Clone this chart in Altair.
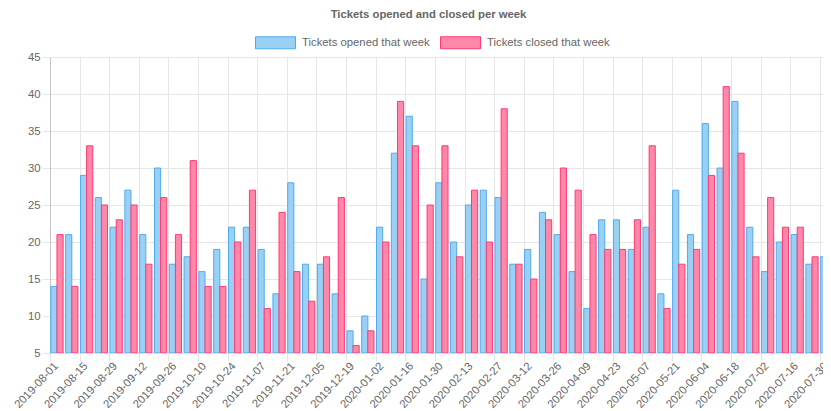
import altair as alt
import pandas as pd

weeks = [
    "2019-08-01", "2019-08-08", "2019-08-15", "2019-08-22", "2019-08-29",
    "2019-09-05", "2019-09-12", "2019-09-19", "2019-09-26", "2019-10-03",
    "2019-10-10", "2019-10-17", "2019-10-24", "2019-10-31", "2019-11-07",
    "2019-11-14", "2019-11-21", "2019-11-28", "2019-12-05", "2019-12-12",
    "2019-12-19", "2019-12-26", "2020-01-02", "2020-01-09", "2020-01-16",
    "2020-01-23", "2020-01-30", "2020-02-06", "2020-02-13", "2020-02-20",
    "2020-02-27", "2020-03-05", "2020-03-12", "2020-03-19", "2020-03-26",
    "2020-04-02", "2020-04-09", "2020-04-16", "2020-04-23", "2020-04-30",
    "2020-05-07", "2020-05-14", "2020-05-21", "2020-05-28", "2020-06-04",
    "2020-06-11", "2020-06-18", "2020-06-25", "2020-07-02", "2020-07-09",
    "2020-07-16", "2020-07-23", "2020-07-30",
]
opened = [14, 21, 29, 26, 22, 27, 21, 30, 17, 18,
          16, 19, 22, 22, 19, 13, 28, 17, 17, 13,
          8, 10, 22, 32, 37, 15, 28, 20, 25, 27,
          26, 17, 19, 24, 21, 16, 11, 23, 23, 19,
          22, 13, 27, 21, 36, 30, 39, 22, 16, 20,
          21, 17, 18]
closed = [21, 14, 33, 25, 23, 25, 17, 26, 21, 31,
          14, 14, 20, 27, 11, 24, 16, 12, 18, 26,
          6, 8, 20, 39, 33, 25, 33, 18, 27, 20,
          38, 17, 15, 23, 30, 27, 21, 19, 19, 23,
          33, 11, 17, 19, 29, 41, 32, 18, 26, 22,
          22, 18, None]
tick_labels = [
    "2019-08-01", "2019-08-15", "2019-08-29", "2019-09-12", "2019-09-26",
    "2019-10-10", "2019-10-24", "2019-11-07", "2019-11-21", "2019-12-05",
    "2019-12-19", "2020-01-02", "2020-01-16", "2020-01-30", "2020-02-13",
    "2020-02-27", "2020-03-12", "2020-03-26", "2020-04-09", "2020-04-23",
    "2020-05-07", "2020-05-21", "2020-06-04", "2020-06-18", "2020-07-02",
    "2020-07-16", "2020-07-30",
]
series = ["Tickets opened that week", "Tickets closed that week"]
fills = ["#9bd0f5", "#ff88aa"]
strokes = ["#4fabec", "#ff3a72"]

DAY = 86400000
FS = 11.3


def ms(s):
    return int(pd.Timestamp(s, tz="UTC").value // 1_000_000)


rows = []
for w, o, c in zip(weeks, opened, closed):
    t = ms(w)
    rows.append({"series": series[0], "start": t + 0.4 * DAY, "end": t + 3.3 * DAY, "value": o})
    if c is not None:
        rows.append({"series": series[1], "start": t + 3.3 * DAY, "end": t + 6.2 * DAY, "value": c})
df = pd.DataFrame(rows)

dom = [ms("2019-08-01"), ms("2020-07-31T12:00:00")]
tick_vals = [ms(s) for s in tick_labels]

legend = alt.Legend(orient="none", legendX=205, legendY=-35, direction="horizontal", title=None)

chart = alt.Chart(df).mark_bar(clip=True, strokeWidth=1).encode(
    x=alt.X("start:T",
            scale=alt.Scale(type="utc", domain=dom),
            axis=alt.Axis(values=tick_vals,
                          labelExpr="utcFormat(datum.value, '%Y-%m-%d')",
                          labelAngle=-47, labelOverlap=False, labelBound=False,
                          labelFlush=False, labelOffset=6, labelPadding=3,
                          title=None, domainColor="#dddddd")),
    x2="end:T",
    y=alt.Y("value:Q", scale=alt.Scale(domain=[5, 45], zero=False, nice=False),
            axis=alt.Axis(values=list(range(5, 46, 5)), title=None, domainColor="#c4c4c4")),
    y2=alt.datum(5),
    fill=alt.Fill("series:N", scale=alt.Scale(domain=series, range=fills), legend=legend),
    stroke=alt.Stroke("series:N", scale=alt.Scale(domain=series, range=strokes), legend=legend),
).properties(
    width=773,
    height=296,
    autosize=alt.AutoSizeParams(type="none"),
    padding={"left": 42, "top": 49, "right": 0, "bottom": 57},
    title=alt.Title("Tickets opened and closed per week", fontSize=FS, font="Liberation Sans",
                    fontWeight="bold", color="#666666", anchor="middle", offset=2, dx=-8),
).configure_view(stroke=None).configure_axis(
    gridColor="#e6e6e6",
    tickColor="#e6e6e6",
    tickSize=8,
    labelColor="#666666",
    labelFont="Liberation Sans",
    labelFontSize=FS,
    labelPadding=2,
).configure_legend(
    symbolType="M-1,-0.3H1V0.3H-1Z",
    symbolSize=1600,
    symbolStrokeWidth=1,
    symbolOpacity=1,
    labelFont="Liberation Sans",
    labelFontSize=FS,
    labelColor="#666666",
    labelOffset=6,
    columnPadding=8,
    padding=0,
)

chart.save("out.html", embed_options={"renderer": "svg", "actions": False})
